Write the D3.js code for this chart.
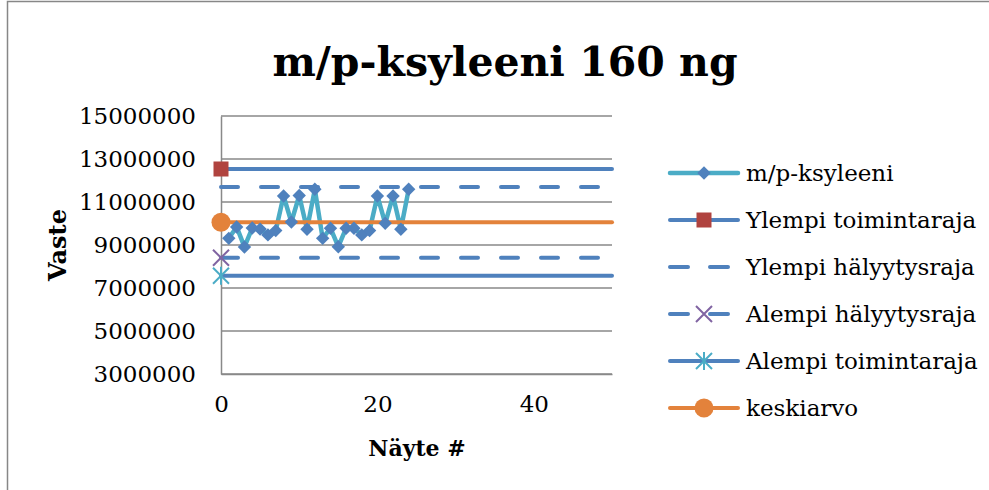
<!DOCTYPE html>
<html>
<head>
<meta charset="utf-8">
<script src="https://cdn.jsdelivr.net/npm/d3@7"></script>
<style>
  body { margin: 0; background: #fff; }
  svg text { font-family: "DejaVu Serif", serif; fill: #000; }
</style>
</head>
<body>
<div id="chart"></div>
<script>
// sample numbers and measured responses
var sampleNo = [1, 2, 3, 4, 5, 6, 7, 8, 9, 10, 11, 12,
                13, 14, 15, 16, 17, 18, 19, 20, 21, 22, 23, 24];
var vaste = [9310000, 9840000, 8910000, 9790000, 9740000, 9470000, 9670000, 11280000, 10070000, 11300000, 9730000, 11590000,
             9310000, 9780000, 8920000, 9780000, 9780000, 9470000, 9670000, 11280000, 10010000, 11280000, 9730000, 11590000];

// control limits (lines start at sample 0)
var limitNames = ["Ylempi toimintaraja", "Ylempi hälyytysraja", "Alempi hälyytysraja", "Alempi toimintaraja", "keskiarvo"];
var limitValues = [12535000, 11700000, 8410000, 7570000, 10060000];
var limitX = [0, 50];

var yTicks = [3000000, 5000000, 7000000, 9000000, 11000000, 13000000, 15000000];
var xTicks = [0, 20, 40];

var margin = {top: 116, right: 377, bottom: 116, left: 221},
    width = 989 - margin.left - margin.right,
    height = 490 - margin.top - margin.bottom;

var blue = "#4F81BD", teal = "#4BACC6", red = "#B0433F", purple = "#8064A2", orange = "#E3823B", grid = "#898989";

var root = d3.select("#chart")
  .append("svg")
    .attr("width", 989)
    .attr("height", 490);

// chart border
root.append("rect")
    .attr("x", 7.5).attr("y", 1.5)
    .attr("width", 1000).attr("height", 520)
    .attr("fill", "none")
    .attr("stroke", "#878787")
    .attr("stroke-width", 1.5);

root.append("text")
    .attr("x", 505).attr("y", 76)
    .attr("text-anchor", "middle")
    .style("font-size", "41px")
    .style("font-weight", "bold")
    .text("m/p-ksyleeni 160 ng");

var svg = root.append("g")
    .attr("transform", "translate(" + margin.left + "," + margin.top + ")");

var x = d3.scaleLinear().domain([0, 50]).range([0, width]);
var y = d3.scaleLinear().domain([3000000, 15000000]).range([height, 0]);

// gridlines
svg.append("g")
    .selectAll("line")
    .data(yTicks)
  .enter().append("line")
    .attr("x1", 0).attr("x2", width)
    .attr("y1", function(d) { return y(d); })
    .attr("y2", function(d) { return y(d); })
    .attr("stroke", grid)
    .attr("stroke-width", 1.5);

var yAxis = svg.append("g")
    .call(d3.axisLeft(y).tickValues(yTicks).tickSize(0).tickPadding(25)
        .tickFormat(d3.format("d")));
yAxis.select(".domain").attr("stroke", grid).attr("stroke-width", 1.5);
yAxis.selectAll("text").style("font-size", "23px").attr("font-family", null);

var xAxis = svg.append("g")
    .attr("transform", "translate(0," + height + ")")
    .call(d3.axisBottom(x).tickValues(xTicks).tickSize(0).tickPadding(22));
xAxis.select(".domain").attr("stroke", grid).attr("stroke-width", 1.5);
xAxis.selectAll("text").style("font-size", "23px").attr("font-family", null);

root.append("text")
    .attr("transform", "translate(66,245) rotate(-90)")
    .attr("text-anchor", "middle")
    .style("font-size", "24px")
    .style("font-weight", "bold")
    .text("Vaste");

root.append("text")
    .attr("x", 417).attr("y", 456)
    .attr("text-anchor", "middle")
    .style("font-size", "22px")
    .style("font-weight", "bold")
    .text("Näyte #");

// marker shapes
var diamond = d3.symbol().type(d3.symbolSquare).size(90);
function drawMarker(g, kind) {
  if (kind == "diamond") {
    g.append("path").attr("d", diamond()).attr("transform", "rotate(45)").attr("fill", blue);
  } else if (kind == "square") {
    g.append("rect").attr("x", -7.5).attr("y", -7.5).attr("width", 15).attr("height", 15).attr("fill", red);
  } else if (kind == "x") {
    g.append("path").attr("d", "M-8,-8L8,8M-8,8L8,-8").attr("stroke", purple).attr("stroke-width", 2).attr("fill", "none");
  } else if (kind == "star") {
    g.append("path").attr("d", "M-8,-8L8,8M-8,8L8,-8M0,-9L0,9").attr("stroke", teal).attr("stroke-width", 2).attr("fill", "none");
  } else if (kind == "circle") {
    g.append("circle").attr("r", 9.5).attr("fill", orange);
  }
}

var limitStyle = [
  {color: blue, dash: null, marker: "square"},
  {color: blue, dash: "17,23", marker: null},
  {color: blue, dash: "17,23", marker: "x"},
  {color: blue, dash: null, marker: "star"},
  {color: orange, dash: null, marker: "circle"}
];

var line = d3.line()
    .x(function(d) { return x(d[0]); })
    .y(function(d) { return y(d[1]); });

var data = sampleNo.map(function(d, i) { return [d, vaste[i]]; });

svg.append("path")
    .datum(data)
    .attr("d", line)
    .attr("fill", "none")
    .attr("stroke", teal)
    .attr("stroke-width", 4.5)
    .attr("stroke-linejoin", "round");

limitValues.forEach(function(v, i) {
  svg.append("path")
      .datum(limitX.map(function(d) { return [d, v]; }))
      .attr("d", line)
      .attr("fill", "none")
      .attr("stroke", limitStyle[i].color)
      .attr("stroke-width", 4)
      .attr("stroke-linecap", "round")
      .attr("stroke-dasharray", limitStyle[i].dash);
});

// markers
data.forEach(function(d) {
  drawMarker(svg.append("g").attr("transform", "translate(" + x(d[0]) + "," + y(d[1]) + ")"), "diamond");
});
limitValues.forEach(function(v, i) {
  if (limitStyle[i].marker)
    drawMarker(svg.append("g").attr("transform", "translate(" + x(limitX[0]) + "," + y(v) + ")"), limitStyle[i].marker);
});

// legend
var legendItems = [{name: "m/p-ksyleeni", color: teal, dash: null, marker: "diamond", w: 4.5}].concat(
  limitNames.map(function(n, i) {
    return {name: n, color: limitStyle[i].color, dash: limitStyle[i].dash, marker: limitStyle[i].marker, w: 4};
  }));

var legend = root.append("g").attr("transform", "translate(668,173)");
legendItems.forEach(function(d, i) {
  var row = legend.append("g").attr("transform", "translate(0," + (i * 47) + ")");
  row.append("line")
      .attr("x1", 2).attr("x2", 70)
      .attr("stroke", d.color)
      .attr("stroke-width", d.w)
      .attr("stroke-linecap", "round")
      .attr("stroke-dasharray", d.dash ? "18,22" : null);
  if (d.marker) drawMarker(row.append("g").attr("transform", "translate(36,0)"), d.marker);
  row.append("text")
      .attr("x", 78).attr("dy", "0.35em")
      .style("font-size", "23px")
      .text(d.name);
});
</script>
</body>
</html>
